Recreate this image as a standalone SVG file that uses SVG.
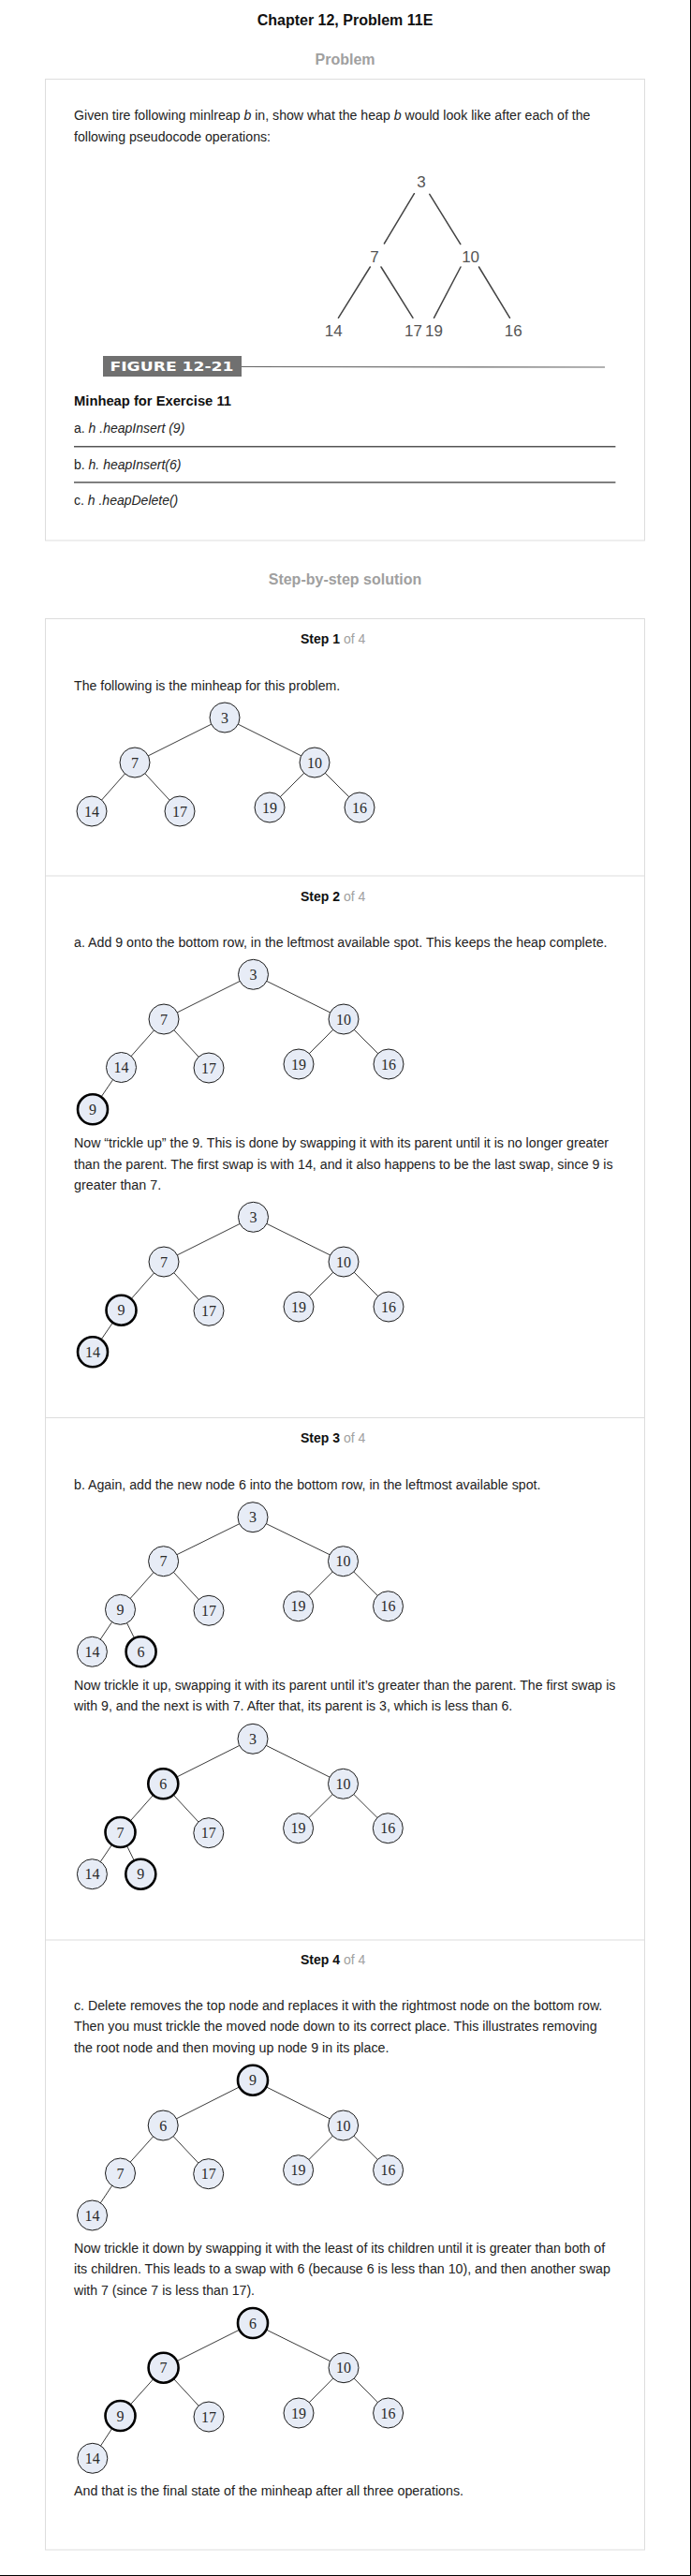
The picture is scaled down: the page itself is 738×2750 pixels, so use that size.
<svg xmlns="http://www.w3.org/2000/svg" width="738" height="2750" viewBox="0 0 738 2750">
<style>
.bg{fill:#ffffff}
.box{fill:#ffffff;stroke:#dddddd;stroke-width:1}
.div{stroke:#dddddd;stroke-width:1}
.h1{font-family:"Liberation Sans",Arial,sans-serif;font-size:16px;font-weight:bold;fill:#111;text-anchor:middle}
.h2{font-family:"Liberation Sans",Arial,sans-serif;font-size:16px;font-weight:bold;fill:#a0a0a0;text-anchor:middle}
.st{font-family:"Liberation Sans",Arial,sans-serif;font-size:14px;font-weight:bold;fill:#111}
.of{font-weight:normal;fill:#a0a0a0}
.body{font-family:"Liberation Sans",Arial,sans-serif;font-size:14px;fill:#222}
.bold{font-weight:bold;fill:#111}
.it{font-style:italic}
.fig{font-family:"Liberation Sans",Arial,sans-serif;font-size:17px;fill:#555;text-anchor:middle}
.fe{stroke:#444;stroke-width:1.5;stroke-linecap:round}
.rule{stroke:#555;stroke-width:1.5}
.e{stroke:#222;stroke-width:0.9}
.n{fill:#e7ecf6;stroke:#1a1a1a;stroke-width:1}
.t{fill:#e7ecf6;stroke:#000;stroke-width:2.6}
.nl{font-family:"Liberation Serif","Times New Roman",serif;font-size:16px;fill:#2a2a2a;text-anchor:middle}
</style>
<rect class="bg" x="0" y="0" width="738" height="2750"/>

<text class="h1" x="368.5" y="27">Chapter 12, Problem 11E</text>
<text class="h2" x="368.5" y="69">Problem</text>

<g id="problem">
<rect class="box" x="48.5" y="84.5" width="640" height="492.5"/>
<text class="body" x="79" y="128.3" textLength="551.5" lengthAdjust="spacingAndGlyphs">Given tire following minlreap <tspan class="it">b</tspan> in, show what the heap <tspan class="it">b</tspan> would look like after each of the</text>
<text class="body" x="79" y="151" textLength="210" lengthAdjust="spacingAndGlyphs">following pseudocode operations:</text>
<g id="figure-12-21">
<line class="fe" x1="442.4" y1="206.7" x2="410.4" y2="260"/>
<line class="fe" x1="458.8" y1="207.3" x2="491.8" y2="260.7"/>
<line class="fe" x1="395.3" y1="285" x2="361.4" y2="339.3"/>
<line class="fe" x1="407" y1="285" x2="441" y2="339.3"/>
<line class="fe" x1="492" y1="285" x2="463.5" y2="339.3"/>
<line class="fe" x1="511.5" y1="285" x2="544.5" y2="339.3"/>
<text class="fig" x="450" y="200">3</text>
<text class="fig" x="400" y="279.5">7</text>
<text class="fig" x="502.6" y="279.5">10</text>
<text class="fig" x="356.2" y="358.7">14</text>
<text class="fig" x="441.4" y="358.7">17</text>
<text class="fig" x="463.5" y="358.7">19</text>
<text class="fig" x="548.2" y="358.7">16</text>
<rect x="110" y="380" width="148" height="22" fill="#707070"/>
<text x="117.5" y="396" font-family="'DejaVu Sans',Verdana,sans-serif" font-size="14" font-weight="bold" fill="#ffffff" textLength="132" lengthAdjust="spacingAndGlyphs">FIGURE 12-21</text>
<line x1="258" y1="391.5" x2="646" y2="392" stroke="#666" stroke-width="1.2"/>
</g>
<text class="body bold" x="79" y="432.7" textLength="168" lengthAdjust="spacingAndGlyphs">Minheap for Exercise 11</text>
<text class="body" x="79" y="461.7">a. <tspan class="it">h .heapInsert (9)</tspan></text>
<line class="rule" x1="79" y1="476.7" x2="657.4" y2="476.7"/>
<text class="body" x="79" y="500.7">b. <tspan class="it">h. heapInsert(6)</tspan></text>
<line class="rule" x1="79" y1="515" x2="657.4" y2="515"/>
<text class="body" x="79" y="539">c. <tspan class="it">h .heapDelete()</tspan></text>
</g>

<text class="h2" x="368.5" y="623.5">Step-by-step solution</text>

<rect class="box" x="48.5" y="660.5" width="640" height="2061.5"/>
<line class="div" x1="48.5" y1="935" x2="688.5" y2="935"/>
<line class="div" x1="48.5" y1="1513.5" x2="688.5" y2="1513.5"/>
<line class="div" x1="48.5" y1="2071" x2="688.5" y2="2071"/>

<g id="step1-text">
<text class="st" x="321" y="686.7">Step 1<tspan class="of"> of 4</tspan></text>
<text class="body" x="79" y="736.7" textLength="284.3" lengthAdjust="spacingAndGlyphs">The following is the minheap for this problem.</text>
</g>
<g id="step2-text">
<text class="st" x="321" y="961.7">Step 2<tspan class="of"> of 4</tspan></text>
<text class="body" x="79" y="1011" textLength="569.5" lengthAdjust="spacingAndGlyphs">a. Add 9 onto the bottom row, in the leftmost available spot. This keeps the heap complete.</text>
<text class="body" x="79" y="1225" textLength="571" lengthAdjust="spacingAndGlyphs">Now “trickle up” the 9. This is done by swapping it with its parent until it is no longer greater</text>
<text class="body" x="79" y="1247.8" textLength="575.6" lengthAdjust="spacingAndGlyphs">than the parent. The first swap is with 14, and it also happens to be the last swap, since 9 is</text>
<text class="body" x="79" y="1270.3" textLength="93.2" lengthAdjust="spacingAndGlyphs">greater than 7.</text>
</g>
<g id="step3-text">
<text class="st" x="321" y="1540">Step 3<tspan class="of"> of 4</tspan></text>
<text class="body" x="79" y="1590" textLength="498.4" lengthAdjust="spacingAndGlyphs">b. Again, add the new node 6 into the bottom row, in the leftmost available spot.</text>
<text class="body" x="79" y="1804" textLength="578.4" lengthAdjust="spacingAndGlyphs">Now trickle it up, swapping it with its parent until it’s greater than the parent. The first swap is</text>
<text class="body" x="79" y="1826.3" textLength="468.3" lengthAdjust="spacingAndGlyphs">with 9, and the next is with 7. After that, its parent is 3, which is less than 6.</text>
</g>
<g id="step4-text">
<text class="st" x="321" y="2096.7">Step 4<tspan class="of"> of 4</tspan></text>
<text class="body" x="79" y="2145.8" textLength="564.3" lengthAdjust="spacingAndGlyphs">c. Delete removes the top node and replaces it with the rightmost node on the bottom row.</text>
<text class="body" x="79" y="2168" textLength="558.6" lengthAdjust="spacingAndGlyphs">Then you must trickle the moved node down to its correct place. This illustrates removing</text>
<text class="body" x="79" y="2190.6" textLength="336.5" lengthAdjust="spacingAndGlyphs">the root node and then moving up node 9 in its place.</text>
<text class="body" x="79" y="2404.8" textLength="567.1" lengthAdjust="spacingAndGlyphs">Now trickle it down by swapping it with the least of its children until it is greater than both of</text>
<text class="body" x="79" y="2427" textLength="572.8" lengthAdjust="spacingAndGlyphs">its children. This leads to a swap with 6 (because 6 is less than 10), and then another swap</text>
<text class="body" x="79" y="2449.8" textLength="193" lengthAdjust="spacingAndGlyphs">with 7 (since 7 is less than 17).</text>
<text class="body" x="79" y="2664" textLength="416" lengthAdjust="spacingAndGlyphs">And that is the final state of the minheap after all three operations.</text>
</g>

<g id="connectors">
<line class="e" x1="240" y1="766" x2="144" y2="814"/>
<line class="e" x1="240" y1="766" x2="336" y2="814"/>
<line class="e" x1="144" y1="814" x2="98" y2="866"/>
<line class="e" x1="144" y1="814" x2="192" y2="866"/>
<line class="e" x1="336" y1="814" x2="288" y2="862"/>
<line class="e" x1="336" y1="814" x2="384" y2="862"/>
<line class="e" x1="270.5" y1="1040.3" x2="175" y2="1088"/>
<line class="e" x1="270.5" y1="1040.3" x2="367" y2="1088"/>
<line class="e" x1="175" y1="1088" x2="129.5" y2="1139.5"/>
<line class="e" x1="175" y1="1088" x2="223" y2="1140"/>
<line class="e" x1="367" y1="1088" x2="319" y2="1136"/>
<line class="e" x1="367" y1="1088" x2="415" y2="1136"/>
<line class="e" x1="129.5" y1="1139.5" x2="99" y2="1184.3"/>
<line class="e" x1="270.5" y1="1299.3" x2="175" y2="1347"/>
<line class="e" x1="270.5" y1="1299.3" x2="367" y2="1347"/>
<line class="e" x1="175" y1="1347" x2="129.5" y2="1398.7"/>
<line class="e" x1="175" y1="1347" x2="223" y2="1399.3"/>
<line class="e" x1="367" y1="1347" x2="319" y2="1395"/>
<line class="e" x1="367" y1="1347" x2="415" y2="1395"/>
<line class="e" x1="129.5" y1="1398.7" x2="99" y2="1443.3"/>
<line class="e" x1="270" y1="1619.7" x2="174.6" y2="1666.7"/>
<line class="e" x1="270" y1="1619.7" x2="366.5" y2="1666.7"/>
<line class="e" x1="174.6" y1="1666.7" x2="128.5" y2="1718.3"/>
<line class="e" x1="174.6" y1="1666.7" x2="223" y2="1719.3"/>
<line class="e" x1="366.5" y1="1666.7" x2="318.6" y2="1714.7"/>
<line class="e" x1="366.5" y1="1666.7" x2="414.5" y2="1714.7"/>
<line class="e" x1="128.5" y1="1718.3" x2="98.4" y2="1763.3"/>
<line class="e" x1="128.5" y1="1718.3" x2="150.6" y2="1763.3"/>
<line class="e" x1="270" y1="1856.3" x2="174.3" y2="1904.3"/>
<line class="e" x1="270" y1="1856.3" x2="366.5" y2="1904.3"/>
<line class="e" x1="174.3" y1="1904.3" x2="128.5" y2="1956"/>
<line class="e" x1="174.3" y1="1904.3" x2="222.8" y2="1956.7"/>
<line class="e" x1="366.5" y1="1904.3" x2="318.6" y2="1951.7"/>
<line class="e" x1="366.5" y1="1904.3" x2="414.3" y2="1951.7"/>
<line class="e" x1="128.5" y1="1956" x2="98.4" y2="2000.7"/>
<line class="e" x1="128.5" y1="1956" x2="150.3" y2="2000.7"/>
<line class="e" x1="270" y1="2220.7" x2="174.2" y2="2269"/>
<line class="e" x1="270" y1="2220.7" x2="366.6" y2="2269"/>
<line class="e" x1="174.2" y1="2269" x2="128.5" y2="2320"/>
<line class="e" x1="174.2" y1="2269" x2="222.7" y2="2320.7"/>
<line class="e" x1="366.6" y1="2269" x2="318.6" y2="2316.7"/>
<line class="e" x1="366.6" y1="2269" x2="414.6" y2="2316.7"/>
<line class="e" x1="128.5" y1="2320" x2="98.5" y2="2365"/>
<line class="e" x1="270" y1="2480" x2="174.6" y2="2527.7"/>
<line class="e" x1="270" y1="2480" x2="367" y2="2527.7"/>
<line class="e" x1="174.6" y1="2527.7" x2="128.5" y2="2579"/>
<line class="e" x1="174.6" y1="2527.7" x2="223" y2="2580"/>
<line class="e" x1="367" y1="2527.7" x2="319" y2="2576"/>
<line class="e" x1="367" y1="2527.7" x2="414.6" y2="2576"/>
<line class="e" x1="128.5" y1="2579" x2="98.8" y2="2624.3"/>
</g>

<g id="t1-n3"><circle class="n" cx="240" cy="766" r="16"/><text class="nl" x="240" y="771.6">3</text></g>
<g id="t1-n7"><circle class="n" cx="144" cy="814" r="16"/><text class="nl" x="144" y="819.6">7</text></g>
<g id="t1-n10"><circle class="n" cx="336" cy="814" r="16"/><text class="nl" x="336" y="819.6">10</text></g>
<g id="t1-n14"><circle class="n" cx="98" cy="866" r="16"/><text class="nl" x="98" y="871.6">14</text></g>
<g id="t1-n17"><circle class="n" cx="192" cy="866" r="16"/><text class="nl" x="192" y="871.6">17</text></g>
<g id="t1-n19"><circle class="n" cx="288" cy="862" r="16"/><text class="nl" x="288" y="867.6">19</text></g>
<g id="t1-n16"><circle class="n" cx="384" cy="862" r="16"/><text class="nl" x="384" y="867.6">16</text></g>

<g id="t2a-n3"><circle class="n" cx="270.5" cy="1040.3" r="16"/><text class="nl" x="270.5" y="1045.9">3</text></g>
<g id="t2a-n7"><circle class="n" cx="175" cy="1088" r="16"/><text class="nl" x="175" y="1093.6">7</text></g>
<g id="t2a-n10"><circle class="n" cx="367" cy="1088" r="16"/><text class="nl" x="367" y="1093.6">10</text></g>
<g id="t2a-n14"><circle class="n" cx="129.5" cy="1139.5" r="16"/><text class="nl" x="129.5" y="1145.1">14</text></g>
<g id="t2a-n17"><circle class="n" cx="223" cy="1140" r="16"/><text class="nl" x="223" y="1145.6">17</text></g>
<g id="t2a-n19"><circle class="n" cx="319" cy="1136" r="16"/><text class="nl" x="319" y="1141.6">19</text></g>
<g id="t2a-n16"><circle class="n" cx="415" cy="1136" r="16"/><text class="nl" x="415" y="1141.6">16</text></g>
<g id="t2a-n9"><circle class="t" cx="99" cy="1184.3" r="16"/><text class="nl" x="99" y="1189.9">9</text></g>

<g id="t2b-n3"><circle class="n" cx="270.5" cy="1299.3" r="16"/><text class="nl" x="270.5" y="1304.9">3</text></g>
<g id="t2b-n7"><circle class="n" cx="175" cy="1347" r="16"/><text class="nl" x="175" y="1352.6">7</text></g>
<g id="t2b-n10"><circle class="n" cx="367" cy="1347" r="16"/><text class="nl" x="367" y="1352.6">10</text></g>
<g id="t2b-n9"><circle class="t" cx="129.5" cy="1398.7" r="16"/><text class="nl" x="129.5" y="1404.3">9</text></g>
<g id="t2b-n17"><circle class="n" cx="223" cy="1399.3" r="16"/><text class="nl" x="223" y="1404.9">17</text></g>
<g id="t2b-n19"><circle class="n" cx="319" cy="1395" r="16"/><text class="nl" x="319" y="1400.6">19</text></g>
<g id="t2b-n16"><circle class="n" cx="415" cy="1395" r="16"/><text class="nl" x="415" y="1400.6">16</text></g>
<g id="t2b-n14"><circle class="t" cx="99" cy="1443.3" r="16"/><text class="nl" x="99" y="1448.9">14</text></g>

<g id="t3a-n3"><circle class="n" cx="270" cy="1619.7" r="16"/><text class="nl" x="270" y="1625.3">3</text></g>
<g id="t3a-n7"><circle class="n" cx="174.6" cy="1666.7" r="16"/><text class="nl" x="174.6" y="1672.3">7</text></g>
<g id="t3a-n10"><circle class="n" cx="366.5" cy="1666.7" r="16"/><text class="nl" x="366.5" y="1672.3">10</text></g>
<g id="t3a-n9"><circle class="n" cx="128.5" cy="1718.3" r="16"/><text class="nl" x="128.5" y="1723.9">9</text></g>
<g id="t3a-n17"><circle class="n" cx="223" cy="1719.3" r="16"/><text class="nl" x="223" y="1724.9">17</text></g>
<g id="t3a-n19"><circle class="n" cx="318.6" cy="1714.7" r="16"/><text class="nl" x="318.6" y="1720.3">19</text></g>
<g id="t3a-n16"><circle class="n" cx="414.5" cy="1714.7" r="16"/><text class="nl" x="414.5" y="1720.3">16</text></g>
<g id="t3a-n14"><circle class="n" cx="98.4" cy="1763.3" r="16"/><text class="nl" x="98.4" y="1768.9">14</text></g>
<g id="t3a-n6"><circle class="t" cx="150.6" cy="1763.3" r="16"/><text class="nl" x="150.6" y="1768.9">6</text></g>

<g id="t3b-n3"><circle class="n" cx="270" cy="1856.3" r="16"/><text class="nl" x="270" y="1861.9">3</text></g>
<g id="t3b-n6"><circle class="t" cx="174.3" cy="1904.3" r="16"/><text class="nl" x="174.3" y="1909.9">6</text></g>
<g id="t3b-n10"><circle class="n" cx="366.5" cy="1904.3" r="16"/><text class="nl" x="366.5" y="1909.9">10</text></g>
<g id="t3b-n7"><circle class="t" cx="128.5" cy="1956" r="16"/><text class="nl" x="128.5" y="1961.6">7</text></g>
<g id="t3b-n17"><circle class="n" cx="222.8" cy="1956.7" r="16"/><text class="nl" x="222.8" y="1962.3">17</text></g>
<g id="t3b-n19"><circle class="n" cx="318.6" cy="1951.7" r="16"/><text class="nl" x="318.6" y="1957.3">19</text></g>
<g id="t3b-n16"><circle class="n" cx="414.3" cy="1951.7" r="16"/><text class="nl" x="414.3" y="1957.3">16</text></g>
<g id="t3b-n14"><circle class="n" cx="98.4" cy="2000.7" r="16"/><text class="nl" x="98.4" y="2006.3">14</text></g>
<g id="t3b-n9"><circle class="t" cx="150.3" cy="2000.7" r="16"/><text class="nl" x="150.3" y="2006.3">9</text></g>

<g id="t4a-n9"><circle class="t" cx="270" cy="2220.7" r="16"/><text class="nl" x="270" y="2226.3">9</text></g>
<g id="t4a-n6"><circle class="n" cx="174.2" cy="2269" r="16"/><text class="nl" x="174.2" y="2274.6">6</text></g>
<g id="t4a-n10"><circle class="n" cx="366.6" cy="2269" r="16"/><text class="nl" x="366.6" y="2274.6">10</text></g>
<g id="t4a-n7"><circle class="n" cx="128.5" cy="2320" r="16"/><text class="nl" x="128.5" y="2325.6">7</text></g>
<g id="t4a-n17"><circle class="n" cx="222.7" cy="2320.7" r="16"/><text class="nl" x="222.7" y="2326.3">17</text></g>
<g id="t4a-n19"><circle class="n" cx="318.6" cy="2316.7" r="16"/><text class="nl" x="318.6" y="2322.3">19</text></g>
<g id="t4a-n16"><circle class="n" cx="414.6" cy="2316.7" r="16"/><text class="nl" x="414.6" y="2322.3">16</text></g>
<g id="t4a-n14"><circle class="n" cx="98.5" cy="2365" r="16"/><text class="nl" x="98.5" y="2370.6">14</text></g>

<g id="t4b-n6"><circle class="t" cx="270" cy="2480" r="16"/><text class="nl" x="270" y="2485.6">6</text></g>
<g id="t4b-n7"><circle class="t" cx="174.6" cy="2527.7" r="16"/><text class="nl" x="174.6" y="2533.3">7</text></g>
<g id="t4b-n10"><circle class="n" cx="367" cy="2527.7" r="16"/><text class="nl" x="367" y="2533.3">10</text></g>
<g id="t4b-n9"><circle class="t" cx="128.5" cy="2579" r="16"/><text class="nl" x="128.5" y="2584.6">9</text></g>
<g id="t4b-n17"><circle class="n" cx="223" cy="2580" r="16"/><text class="nl" x="223" y="2585.6">17</text></g>
<g id="t4b-n19"><circle class="n" cx="319" cy="2576" r="16"/><text class="nl" x="319" y="2581.6">19</text></g>
<g id="t4b-n16"><circle class="n" cx="414.6" cy="2576" r="16"/><text class="nl" x="414.6" y="2581.6">16</text></g>
<g id="t4b-n14"><circle class="n" cx="98.8" cy="2624.3" r="16"/><text class="nl" x="98.8" y="2629.9">14</text></g>

<polyline points="0,2749.5 737.5,2749.5 737.5,0" fill="none" stroke="#000" stroke-width="1"/>
</svg>
